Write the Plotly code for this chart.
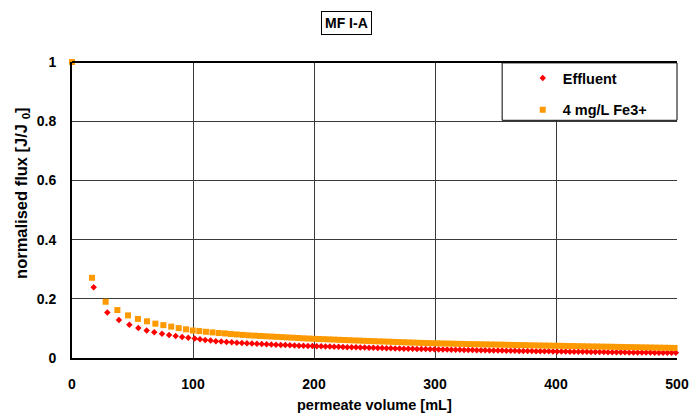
import plotly.graph_objects as go

# ---- data ----
effluent_x = [0, 17.9, 29.2, 38.8, 47.4, 54.8, 61.7, 68.0, 74.4, 80.2, 85.7, 91.0, 96.1,
    101.4, 105.8, 110.1, 114.5, 118.9, 123.3, 127.7, 132.0, 136.2, 140.4, 144.6, 148.7,
    152.8, 156.8, 160.8, 164.7, 168.6, 172.5, 176.3, 180.1, 183.9, 187.6, 191.3, 195.0,
    198.7, 202.3, 205.9, 209.5, 213.1, 216.7, 220.3, 223.9, 227.5, 231.1, 234.7, 238.3,
    241.9, 245.5, 249.1, 252.7, 256.3, 259.9, 263.5, 267.1, 270.7, 274.3, 277.9, 281.5,
    285.1, 288.7, 292.3, 295.9, 299.5, 303.0, 306.5, 310.0, 313.5, 317.0, 320.5, 324.0,
    327.5, 331.0, 334.5, 338.0, 341.5, 345.0, 348.5, 352.0, 355.5, 359.0, 362.5, 366.0,
    369.5, 373.0, 376.5, 380.0, 383.5, 387.0, 390.5, 394.0, 397.5, 401.0, 404.5, 408.0,
    411.5, 415.0, 418.5, 422.0, 425.5, 429.0, 432.5, 436.0, 439.5, 443.0, 446.5, 450.0,
    453.5, 457.0, 460.5, 464.0, 467.5, 471.0, 474.5, 478.0, 481.5, 485.0, 488.5, 492.0,
    495.5, 499.0]
effluent_y = [1.0, 0.239, 0.154, 0.128, 0.112, 0.101, 0.093, 0.087, 0.082, 0.078, 0.074, 0.071, 0.068,
    0.066, 0.063, 0.061, 0.059, 0.057, 0.0555, 0.054, 0.053, 0.0518, 0.0507, 0.0497, 0.0487,
    0.0478, 0.0470, 0.0462, 0.0455, 0.0448, 0.0441, 0.0435, 0.0429, 0.0423, 0.0418, 0.0413, 0.0408,
    0.0403, 0.0398, 0.0394, 0.0389, 0.0385, 0.0380, 0.0376, 0.0371, 0.0367, 0.0363, 0.0359, 0.0355,
    0.0351, 0.0347, 0.0343, 0.0339, 0.0335, 0.0331, 0.0327, 0.0323, 0.0319, 0.0316, 0.0313, 0.0309,
    0.0306, 0.0303, 0.0300, 0.0297, 0.0294, 0.0291, 0.0288, 0.0285, 0.0282, 0.0279, 0.0276, 0.0273,
    0.0270, 0.0267, 0.0265, 0.0262, 0.0260, 0.0257, 0.0255, 0.0252, 0.0250, 0.0247, 0.0245, 0.0242,
    0.0240, 0.0238, 0.0235, 0.0233, 0.0231, 0.0229, 0.0227, 0.0225, 0.0223, 0.0221, 0.0219, 0.0217,
    0.0215, 0.0213, 0.0211, 0.0209, 0.0207, 0.0205, 0.0203, 0.0201, 0.0199, 0.0197, 0.0196, 0.0194,
    0.0192, 0.0191, 0.0189, 0.0188, 0.0186, 0.0185, 0.0183, 0.0182, 0.0180, 0.0179, 0.0178, 0.0176,
    0.0175, 0.0174]

fe_x = [0, 16.5, 27.8, 37.5, 46.3, 54.5, 62.0, 68.9, 75.5, 82.0, 88.2, 94.2, 99.8,
    105.2, 110.7, 116.1, 121.3, 126.4, 131.4, 136.3, 141.2, 146.0, 150.7, 155.4, 160.0,
    164.6, 169.1, 173.6, 178.0, 182.4, 186.8, 191.1, 195.4, 199.7, 203.9, 208.1, 212.3,
    216.5, 220.7, 224.9, 229.1, 233.2, 237.3, 241.4, 245.5, 249.6, 253.7, 257.8, 261.9,
    266.0, 270.0, 274.0, 278.0, 282.0, 286.0, 290.0, 294.0, 298.0, 302.0, 306.0, 310.0,
    314.0, 318.0, 322.0, 326.0, 330.0, 334.0, 338.0, 342.0, 346.0, 350.0, 354.0, 358.0,
    362.0, 366.0, 370.0, 374.0, 378.0, 382.0, 386.0, 390.0, 394.0, 398.0, 402.0, 406.0,
    410.0, 414.0, 418.0, 422.0, 426.0, 430.0, 434.0, 438.0, 442.0, 446.0, 450.0, 454.0,
    458.0, 462.0, 466.0, 470.0, 474.0, 478.0, 482.0, 486.0, 490.0, 494.0, 498.0]
fe_y = [1.0, 0.271, 0.190, 0.162, 0.144, 0.132, 0.124, 0.116, 0.111, 0.106, 0.101, 0.097, 0.093,
    0.091, 0.0885, 0.0865, 0.0845, 0.0830, 0.0810, 0.0795, 0.0780, 0.0765, 0.0755, 0.0745, 0.0735,
    0.0725, 0.0715, 0.0705, 0.0695, 0.0685, 0.0675, 0.0665, 0.0657, 0.0650, 0.0643, 0.0636, 0.0629,
    0.0622, 0.0615, 0.0608, 0.0601, 0.0594, 0.0587, 0.0580, 0.0574, 0.0568, 0.0562, 0.0556, 0.0550,
    0.0544, 0.0538, 0.0532, 0.0526, 0.0520, 0.0514, 0.0509, 0.0504, 0.0500, 0.0496, 0.0492, 0.0488,
    0.0484, 0.0480, 0.0476, 0.0472, 0.0469, 0.0466, 0.0463, 0.0460, 0.0457, 0.0454, 0.0451, 0.0448,
    0.0444, 0.0440, 0.0437, 0.0434, 0.0430, 0.0427, 0.0424, 0.0421, 0.0418, 0.0415, 0.0412, 0.0409,
    0.0406, 0.0403, 0.0400, 0.0397, 0.0394, 0.0391, 0.0388, 0.0385, 0.0382, 0.0379, 0.0376, 0.0373,
    0.0370, 0.0367, 0.0364, 0.0361, 0.0358, 0.0355, 0.0352, 0.0349, 0.0346, 0.0343, 0.0340]

series_names = ["Effluent", "4 mg/L Fe3+"]
x_ticks = [0, 100, 200, 300, 400, 500]
y_ticks = [0, 0.2, 0.4, 0.6, 0.8, 1]
y_ticktext = ["0", "0.2", "0.4", "0.6", "0.8", "1"]

FONT = "Liberation Sans, Arial, sans-serif"
RED = "#FF0000"
ORANGE = "#FF9900"

fig = go.Figure()
fig.add_trace(go.Scatter(
    x=effluent_x, y=effluent_y, mode="markers", name=series_names[0],
    legendgroup="a",
    marker=dict(symbol="diamond", size=5, color=RED, line=dict(width=0)),
    cliponaxis=False))
fig.add_trace(go.Scatter(
    x=fe_x, y=fe_y, mode="markers", name=series_names[1],
    legendgroup="b",
    marker=dict(symbol="square", size=6, color=ORANGE, line=dict(width=0)),
    cliponaxis=False))

tick_font = dict(family=FONT, size=14, color="black", weight="bold")
title_font = dict(family=FONT, size=14.5, color="black", weight="bold")

fig.update_layout(
    width=691, height=417,
    margin=dict(l=72, r=14, t=62, b=59, pad=0, autoexpand=False),
    paper_bgcolor="white", plot_bgcolor="white",
    font=dict(family=FONT, size=14, color="black"),
    showlegend=True,
    legend=dict(x=0.745, y=1.0, xanchor="left", yanchor="top",
                bgcolor="rgba(0,0,0,0)", borderwidth=0,
                font=dict(family=FONT, size=14.5, color="black", weight="bold"),
                tracegroupgap=10, itemwidth=30),
    xaxis=dict(range=[0, 500], tickvals=x_ticks, ticktext=[str(v) for v in x_ticks],
               showgrid=True, gridcolor="#3a3a3a", gridwidth=1,
               showline=True, linecolor="black", linewidth=2,
               ticks="", zeroline=False, tickfont=tick_font,
               ticklabelstandoff=12, automargin=False),
    yaxis=dict(range=[0, 1], tickvals=y_ticks, ticktext=y_ticktext,
               showgrid=True, gridcolor="#3a3a3a", gridwidth=1,
               showline=True, linecolor="black", linewidth=2,
               ticks="", zeroline=False, tickfont=tick_font, ticklabelstandoff=11,
               automargin=False),
    shapes=[
        dict(type="rect", xref="paper", yref="paper", x0=0.711, x1=1.0, y0=0.803, y1=0.997,
             line=dict(color="black", width=1), fillcolor="white", layer="above"),
        dict(type="line", xref="paper", yref="paper", x0=0, x1=1, y0=1, y1=1,
             line=dict(color="black", width=2)),
    ],
    annotations=[
        dict(text="<b>MF I-A</b>", xref="paper", yref="paper", x=0.4545, y=1.0,
             yshift=39, showarrow=False, xanchor="center", yanchor="middle",
             font=dict(family=FONT, size=14, color="black"),
             bordercolor="black", borderwidth=1, borderpad=3, bgcolor="white"),
        dict(text="<b>permeate volume [mL]</b>", xref="paper", yref="paper",
             x=0.5, y=-0.159, showarrow=False, xanchor="center", yanchor="middle",
             font=title_font),
        dict(text="<b>normalised flux [J/J <sub>0</sub>]</b>", xref="paper", yref="paper",
             x=-0.083, y=0.557, showarrow=False, xanchor="center", yanchor="middle",
             textangle=-90, font=dict(family=FONT, size=16.5, color="black", weight="bold")),
    ],
)

fig.write_html("out.html", config={"displayModeBar": False},
               post_script="document.body.style.margin='0';document.body.style.overflow='hidden';")
